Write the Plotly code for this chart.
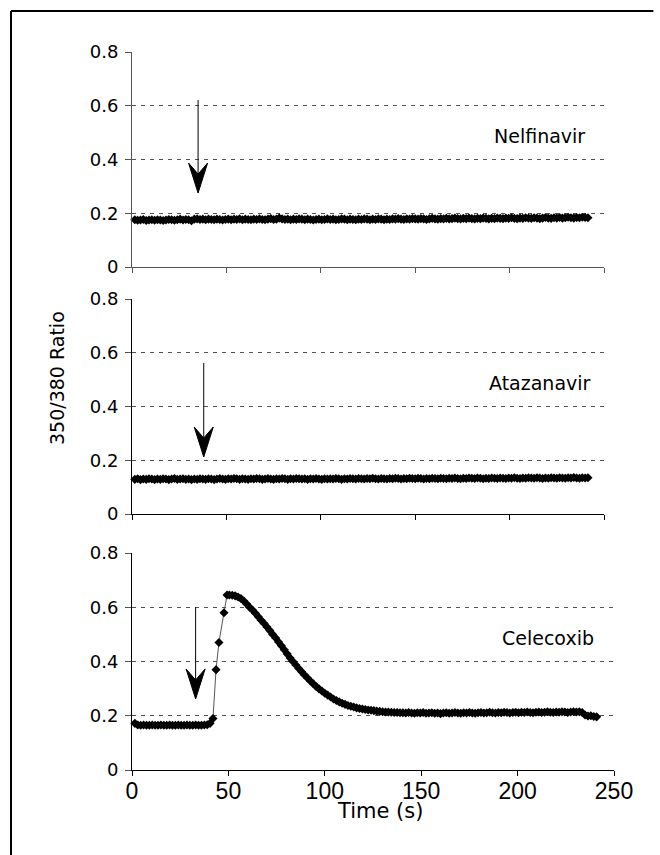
import numpy as np
import plotly.graph_objects as go

# ---------------- data ----------------
# sample times (s) for the two upper traces
time_top = np.arange(1.5, 242, 1.5)  # 161 samples

nelfinavir = [
    0.176, 0.174, 0.175, 0.177, 0.173, 0.175, 0.176, 0.174, 0.176, 0.175,
    0.173, 0.175, 0.177, 0.176, 0.174, 0.176, 0.178, 0.175, 0.177, 0.176,
    0.172, 0.178, 0.179, 0.177, 0.178, 0.176, 0.178, 0.177, 0.176, 0.178,
    0.177, 0.175, 0.177, 0.178, 0.176, 0.178, 0.177, 0.179, 0.176, 0.178,
    0.177, 0.176, 0.178, 0.177, 0.179, 0.177, 0.176, 0.178, 0.180, 0.177,
    0.178, 0.182, 0.179, 0.177, 0.178, 0.176, 0.178, 0.177, 0.179, 0.178,
    0.176, 0.178, 0.177, 0.175, 0.177, 0.178, 0.176, 0.177, 0.179, 0.177,
    0.178, 0.176, 0.177, 0.179, 0.178, 0.176, 0.178, 0.177, 0.176, 0.178,
    0.177, 0.179, 0.178, 0.176, 0.178, 0.177, 0.179, 0.178, 0.176, 0.178,
    0.177, 0.179, 0.178, 0.180, 0.178, 0.177, 0.179, 0.178, 0.180, 0.179,
    0.178, 0.180, 0.179, 0.177, 0.179, 0.181, 0.179, 0.178, 0.180, 0.179,
    0.181, 0.179, 0.180, 0.182, 0.180, 0.179, 0.181, 0.180, 0.182, 0.180,
    0.179, 0.181, 0.180, 0.182, 0.181, 0.179, 0.181, 0.180, 0.182, 0.181,
    0.180, 0.182, 0.181, 0.183, 0.181, 0.180, 0.182, 0.181, 0.183, 0.182,
    0.181, 0.183, 0.182, 0.180, 0.182, 0.184, 0.182, 0.181, 0.183, 0.182,
    0.184, 0.182, 0.183, 0.185, 0.183, 0.182, 0.184, 0.183, 0.185, 0.184,
    0.183,
]

atazanavir = [
    0.129, 0.131, 0.128, 0.130, 0.129, 0.131, 0.130, 0.128, 0.130, 0.129,
    0.131, 0.130, 0.128, 0.130, 0.132, 0.129, 0.130, 0.131, 0.129, 0.130,
    0.128, 0.130, 0.129, 0.131, 0.130, 0.129, 0.131, 0.130, 0.128, 0.130,
    0.132, 0.130, 0.129, 0.131, 0.130, 0.132, 0.131, 0.129, 0.131, 0.130,
    0.129, 0.131, 0.130, 0.132, 0.131, 0.129, 0.130, 0.132, 0.130, 0.129,
    0.131, 0.130, 0.132, 0.131, 0.129, 0.131, 0.130, 0.132, 0.131, 0.130,
    0.131, 0.129, 0.131, 0.130, 0.132, 0.130, 0.129, 0.131, 0.130, 0.131,
    0.130, 0.132, 0.131, 0.129, 0.131, 0.130, 0.132, 0.131, 0.130, 0.132,
    0.131, 0.130, 0.132, 0.131, 0.133, 0.131, 0.130, 0.132, 0.131, 0.130,
    0.132, 0.131, 0.133, 0.132, 0.130, 0.132, 0.131, 0.133, 0.132, 0.131,
    0.133, 0.132, 0.130, 0.132, 0.131, 0.133, 0.132, 0.131, 0.133, 0.132,
    0.131, 0.133, 0.132, 0.134, 0.132, 0.131, 0.133, 0.132, 0.134, 0.133,
    0.132, 0.134, 0.133, 0.131, 0.133, 0.132, 0.134, 0.133, 0.132, 0.134,
    0.133, 0.132, 0.134, 0.133, 0.135, 0.133, 0.132, 0.134, 0.133, 0.135,
    0.134, 0.133, 0.135, 0.134, 0.132, 0.134, 0.133, 0.135, 0.134, 0.133,
    0.135, 0.134, 0.133, 0.135, 0.134, 0.136, 0.134, 0.133, 0.135, 0.134,
    0.135,
]

# Celecoxib sample times: baseline, the fast rise, then the decay
cele_time = np.concatenate([
    np.arange(1.5, 42.1, 1.5),
    [43.6, 45.1, 47.7, 49.3],
    np.arange(50.5, 241.1, 1.5),
])

celecoxib = [
    # baseline 1.5 - 42 s
    0.172, 0.166, 0.165, 0.166, 0.165, 0.165, 0.166, 0.165, 0.165, 0.166,
    0.165, 0.165, 0.166, 0.165, 0.165, 0.166, 0.165, 0.165, 0.166, 0.165,
    0.165, 0.166, 0.165, 0.165, 0.166, 0.167, 0.172, 0.190,
    # rise
    0.370, 0.470, 0.580, 0.645,
    # peak and decay 50.5 - 139 s
    0.645, 0.644, 0.642, 0.638, 0.632, 0.623, 0.612, 0.600, 0.590, 0.578,
    0.565, 0.552, 0.540, 0.527, 0.514, 0.500, 0.487, 0.472, 0.458, 0.443,
    0.428, 0.413, 0.400, 0.387, 0.374, 0.362, 0.350, 0.339, 0.328, 0.318,
    0.308, 0.299, 0.291, 0.283, 0.276, 0.269, 0.262, 0.256, 0.251, 0.246,
    0.242, 0.238, 0.235, 0.232, 0.229, 0.227, 0.225, 0.223, 0.221, 0.220,
    0.219, 0.217, 0.216, 0.215, 0.214, 0.214, 0.213, 0.212, 0.212, 0.211,
    # plateau 140.5 - 232 s
    0.211, 0.210, 0.212, 0.210, 0.209, 0.211, 0.210, 0.212, 0.209, 0.210,
    0.211, 0.209, 0.210, 0.208, 0.210, 0.211, 0.209, 0.210, 0.212, 0.210,
    0.209, 0.211, 0.210, 0.212, 0.210, 0.209, 0.211, 0.212, 0.210, 0.211,
    0.213, 0.211, 0.210, 0.212, 0.211, 0.213, 0.212, 0.210, 0.212, 0.213,
    0.211, 0.213, 0.212, 0.214, 0.212, 0.211, 0.213, 0.214, 0.212, 0.213,
    0.215, 0.213, 0.212, 0.214, 0.213, 0.215, 0.214, 0.212, 0.214, 0.215,
    0.214, 0.215,
    # final drop 233.5 - 241 s
    0.212, 0.203, 0.199, 0.200, 0.197, 0.196,
]

drug_labels = ["Nelfinavir", "Atazanavir", "Celecoxib"]
y_tick_vals = [0, 0.2, 0.4, 0.6, 0.8]
y_tick_text = ["0", "0.2", "0.4", "0.6", "0.8"]
x_tick_vals = [0, 50, 100, 150, 200, 250]
x_tick_text = ["0", "50", "100", "150", "200", "250"]
# drug-addition arrows: (time, arrow top, arrow tip) per panel
arrow_time = [35, 38, 33]
arrow_top = [0.621, 0.562, 0.600]
arrow_tip = [0.275, 0.212, 0.262]

# ---------------- figure ----------------
W, H = 660, 855
fig = go.Figure()

series = [(time_top, nelfinavir), (time_top, atazanavir), (cele_time, celecoxib)]
for i, (t, v) in enumerate(series):
    sfx = "" if i == 0 else str(i + 1)
    fig.add_trace(go.Scatter(
        x=t, y=v, mode="lines+markers",
        xaxis="x" + sfx, yaxis="y" + sfx,
        line=dict(color="#555555", width=1),
        marker=dict(symbol="diamond", size=7, color="black"),
        cliponaxis=False, showlegend=False, hoverinfo="skip",
    ))

# panel geometry in pixels
x_left = 132
x_right = [604, 604, 614]
y_top = [52, 299, 553]
y_bot = [267, 514, 770]

layout = dict(
    width=W, height=H,
    margin=dict(l=0, r=0, t=0, b=0, autoexpand=False),
    paper_bgcolor="white", plot_bgcolor="white",
    showlegend=False,
)

for i in range(3):
    sfx = "" if i == 0 else str(i + 1)
    line_col = "#555555" if i == 0 else "black"
    layout["xaxis" + sfx] = dict(
        domain=[x_left / W, x_right[i] / W],
        range=[0, 250],
        anchor="y" + sfx,
        automargin=False,
        showline=True, linecolor=line_col, linewidth=1,
        ticks="outside", ticklen=5, tickcolor=line_col,
        tickvals=x_tick_vals, ticktext=x_tick_text,
        showticklabels=(i == 2),
        ticklabelstandoff=-5,
        tickfont=dict(family="Liberation Sans, Arial", size=23, color="black"),
        showgrid=False, zeroline=False,
    )
    layout["yaxis" + sfx] = dict(
        domain=[1 - y_bot[i] / H, 1 - y_top[i] / H],
        range=[0, 0.8],
        anchor="x" + sfx,
        automargin=False,
        showline=True, linecolor=line_col, linewidth=1,
        ticks="outside", ticklen=6, tickcolor="#555555",
        tickvals=y_tick_vals, ticktext=y_tick_text,
        ticklabelstandoff=3,
        tickfont=dict(family="DejaVu Sans", size=18, color="black"),
        showgrid=True, gridcolor="#555555", gridwidth=1, griddash="4px,5px",
        zeroline=False,
    )

annotations = []
shapes = []
for i in range(3):
    sfx = "" if i == 0 else str(i + 1)
    annotations.append(dict(
        x=216, y=0.487, xref="x" + sfx, yref="y" + sfx,
        text=drug_labels[i], showarrow=False,
        font=dict(family="DejaVu Sans", size=19, color="black"),
        xanchor="center", yanchor="middle",
    ))
    # arrow shaft
    shapes.append(dict(
        type="line", xref="x" + sfx, yref="y" + sfx,
        x0=arrow_time[i], x1=arrow_time[i],
        y0=arrow_top[i], y1=arrow_tip[i] + 0.04,
        line=dict(color="black", width=1),
    ))
    # arrow head (pixel-sized path anchored at the tip)
    shapes.append(dict(
        type="path", xref="x" + sfx, yref="y" + sfx,
        xsizemode="pixel", ysizemode="pixel",
        xanchor=arrow_time[i], yanchor=arrow_tip[i],
        path="M0,0 L-9.5,30 L0,19 L9.5,30 Z",
        fillcolor="black", line=dict(color="black", width=1),
    ))

annotations.append(dict(
    x=57 / W, y=1 - 378 / H, xref="paper", yref="paper",
    text="350/380 Ratio", textangle=-90, showarrow=False,
    font=dict(family="DejaVu Sans", size=19, color="black"),
    xanchor="center", yanchor="middle",
))
annotations.append(dict(
    x=380 / W, y=1 - 811 / H, xref="paper", yref="paper",
    text="Time (s)", showarrow=False,
    font=dict(family="DejaVu Sans", size=21, color="black"),
    xanchor="center", yanchor="middle",
))

# outer frame: top and left edges of the border
shapes.append(dict(
    type="line", xref="paper", yref="paper",
    x0=11 / W, x1=0.99, y0=1 - 11 / H, y1=1 - 11 / H,
    line=dict(color="black", width=2),
))
shapes.append(dict(
    type="line", xref="paper", yref="paper",
    x0=11 / W, x1=11 / W, y0=0.0, y1=1 - 11 / H,
    line=dict(color="black", width=2),
))

layout["annotations"] = annotations
layout["shapes"] = shapes
fig.update_layout(**layout)

fig.write_html(
    "out.html",
    config={"displayModeBar": False},
    post_script=(
        "document.documentElement.style.margin='0px';"
        "document.documentElement.style.overflow='hidden';"
        "document.body.style.margin='0px';"
        "document.body.style.overflow='hidden';"
    ),
)
